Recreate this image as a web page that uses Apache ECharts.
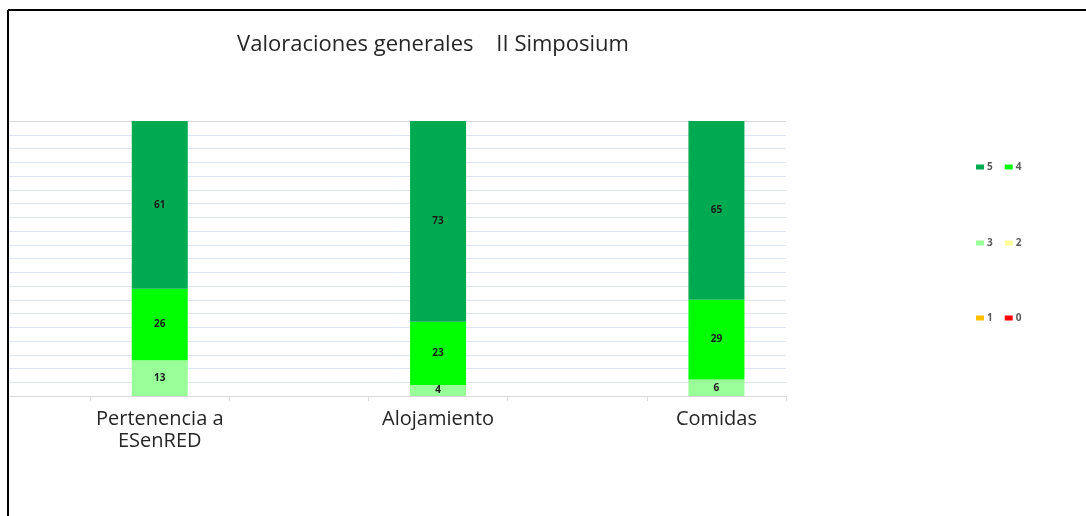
<!DOCTYPE html>
<html>
<head>
<meta charset="utf-8">
<script src="https://cdn.jsdelivr.net/npm/echarts@6/dist/echarts.min.js"></script>
<style>
  html, body { margin: 0; padding: 0; background: #ffffff; }
  #chart { width: 1086px; height: 516px; }
</style>
</head>
<body>
<div id="chart"></div>
<script>
// categorias (huecos vacios entre barras, como en el original)
const categories = ["", "Pertenencia a\nESenRED", "", "Alojamiento", "", "Comidas"];
// porcentaje de cada valoracion
const val0 = [null, 0, null, 0, null, 0];
const val1 = [null, 0, null, 0, null, 0];
const val2 = [null, 0, null, 0, null, 0];
const val3 = [null, 13, null, 4, null, 6];
const val4 = [null, 26, null, 23, null, 29];
const val5 = [null, 61, null, 73, null, 65];
const seriesNames = ["0", "1", "2", "3", "4", "5"];
const seriesColors = ["#ff0000", "#ffc000", "#ffff99", "#99ff99", "#00ff00", "#00aa50"];
const seriesData = [val0, val1, val2, val3, val4, val5];

const chart = echarts.init(document.getElementById("chart"));

// color de lineas de division: la de arriba gris, el resto azul claro
const splitColors = [];
for (let i = 0; i < 21; i++) splitColors.push(i === 20 ? "#d9d9d9" : "#dce6f2");

const series = seriesNames.map((name, i) => ({
  name: name,
  type: "bar",
  stack: "total",
  barWidth: 56,
  data: seriesData[i],
  itemStyle: { color: seriesColors[i] },
  label: {
    show: true,
    position: "inside",
    color: "#1a1a1a",
    fontSize: 10,
    fontWeight: "bold",
    fontFamily: "Open Sans",
    formatter: p => (p.value ? p.value : "")
  }
}));

const legendBase = {
  left: 971,
  orient: "horizontal",
  itemWidth: 8,
  itemHeight: 5,
  itemGap: 12,
  icon: "rect",
  selectedMode: false,
  textStyle: { color: "#595959", fontSize: 10, fontWeight: "bold", fontFamily: "Open Sans", padding: [0, 0, 0, -2] }
};

chart.setOption({
  animation: false,
  title: {
    text: "Valoraciones generales    II Simposium",
    left: 428,
    textAlign: "center",
    top: 29,
    textStyle: { color: "#262626", fontSize: 22, fontWeight: "normal", fontFamily: "Open Sans" }
  },
  legend: [
    Object.assign({}, legendBase, { top: 157, data: ["5", "4"] }),
    Object.assign({}, legendBase, { top: 233, data: ["3", "2"] }),
    Object.assign({}, legendBase, { top: 308, data: ["1", "0"] })
  ],
  grid: { left: -49, right: 300, top: 121, bottom: 120, outerBoundsMode: "none", containLabel: false },
  xAxis: {
    type: "category",
    data: categories,
    axisLine: { lineStyle: { color: "#d9d9d9", width: 1 } },
    axisTick: { show: true, length: 5, lineStyle: { color: "#d9d9d9" } },
    axisLabel: {
      color: "#262626",
      fontSize: 20,
      fontFamily: "Open Sans",
      lineHeight: 22,
      margin: 12,
      interval: 0
    }
  },
  yAxis: {
    type: "value",
    min: 0,
    max: 100,
    interval: 5,
    axisLine: { show: false },
    axisTick: { show: false },
    axisLabel: { show: false },
    splitLine: { show: true, lineStyle: { color: splitColors, width: 1 } }
  },
  series: series,
  graphic: [
    { type: "rect", shape: { x: 0, y: 0, width: 8, height: 516 }, style: { fill: "#ffffff" }, z: 100 },
    { type: "line", shape: { x1: 8, y1: 10, x2: 1086, y2: 10 }, style: { stroke: "#000000", lineWidth: 2 }, z: 101 },
    { type: "line", shape: { x1: 8, y1: 10, x2: 8, y2: 516 }, style: { stroke: "#000000", lineWidth: 2 }, z: 101 }
  ]
});

window.addEventListener("resize", () => chart.resize());
</script>
</body>
</html>
